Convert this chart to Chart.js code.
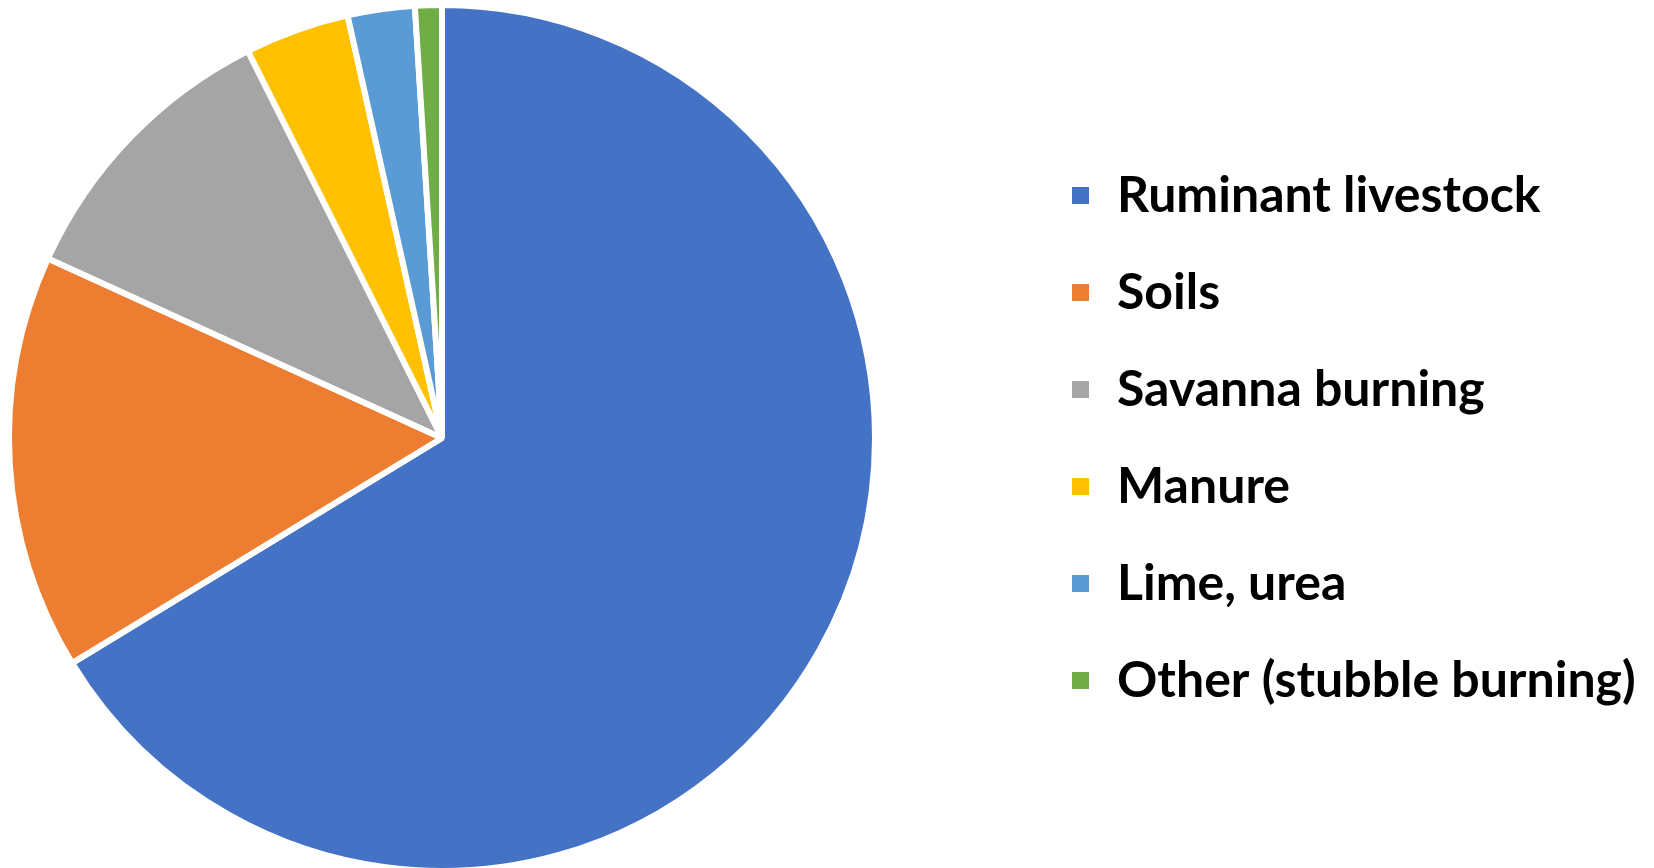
<!DOCTYPE html>
<html>
<head>
<meta charset="utf-8">
<script src="https://cdn.jsdelivr.net/npm/chart.js@4/dist/chart.umd.min.js"></script>
<style>
  html, body { margin: 0; padding: 0; background: #fff; overflow: hidden; }
  #wrap { position: absolute; left: -138px; top: 0; width: 1792px; height: 874px; }
</style>
</head>
<body>
<div id="wrap"><canvas id="chart"></canvas></div>
<script>
// agricultural emissions by source, share of total (%)
const sources = ['Ruminant livestock', 'Soils', 'Savanna burning', 'Manure', 'Lime, urea', 'Other (stubble burning)'];
const shares  = [66.3, 15.5, 10.8, 3.9, 2.5, 1.0];
const colors  = ['#4472C4', '#ED7D31', '#A5A5A5', '#FFC000', '#5B9BD5', '#70AD47'];

const FONT_FAMILY = "Lato, 'Open Sans', sans-serif";
const FONT_SIZE = 50;
const BOX = 23;
const LABEL_PAD = 47;
const CANVAS_W = 1792;
const LEGEND_LEFT = 1160;   // pie area ends here, legend starts

Chart.defaults.font.family = FONT_FAMILY;

const ctx = document.getElementById('chart').getContext('2d');

// legend width = padding + box + half font + longest label + 10 (Chart.js fit)
ctx.font = `700 ${FONT_SIZE}px ${FONT_FAMILY}`;
const longest = Math.max(...sources.map(s => ctx.measureText(s).width));
const legendW = LABEL_PAD + BOX + FONT_SIZE / 2 + longest + 10;
const padRight = Math.max(0, CANVAS_W - LEGEND_LEFT - legendW);

new Chart(ctx, {
  type: 'pie',
  data: {
    labels: sources,
    datasets: [{
      data: shares,
      backgroundColor: colors,
      borderColor: '#ffffff',
      borderWidth: 6
    }]
  },
  options: {
    responsive: true,
    maintainAspectRatio: false,
    animation: false,
    layout: { padding: { top: 2, bottom: 0, left: 0, right: padRight } },
    plugins: {
      tooltip: { enabled: false },
      legend: {
        position: 'right',
        align: 'center',
        labels: {
          boxWidth: BOX,
          boxHeight: BOX,
          padding: LABEL_PAD,
          color: '#000',
          font: { size: FONT_SIZE, weight: '700' }
        }
      }
    }
  }
});
</script>
</body>
</html>
